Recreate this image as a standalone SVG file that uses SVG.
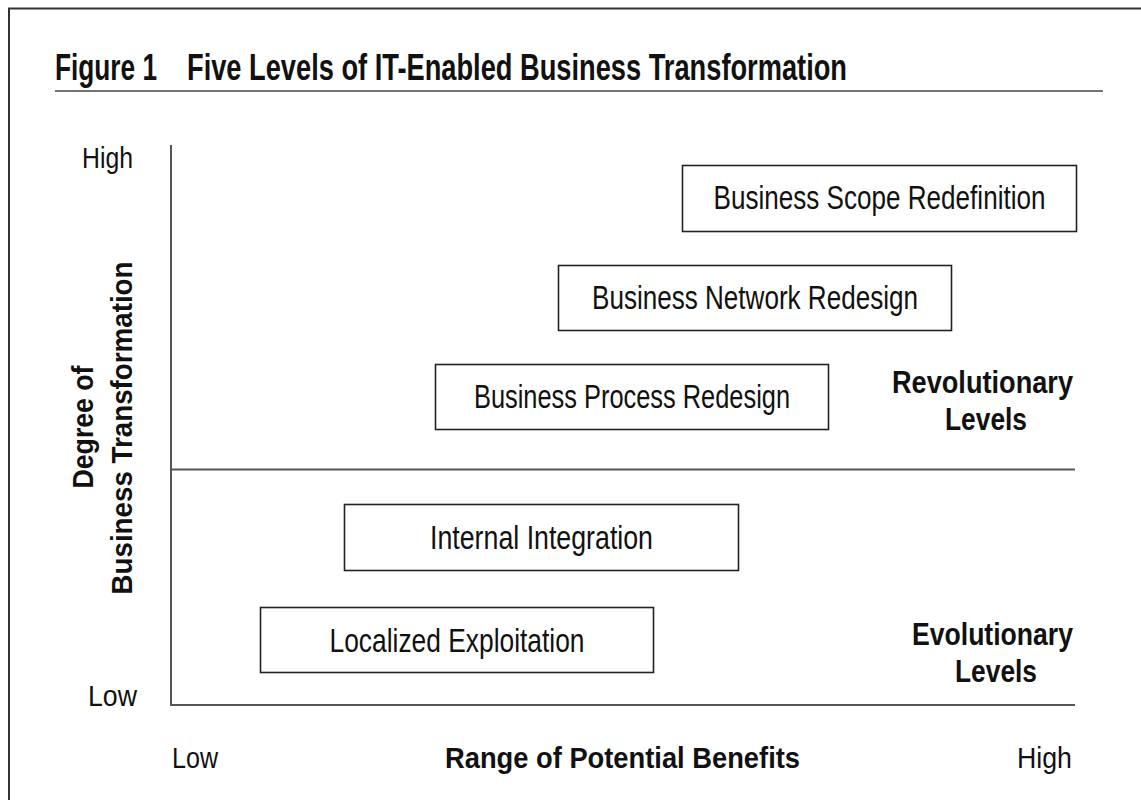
<svg xmlns="http://www.w3.org/2000/svg" width="1141" height="800" viewBox="0 0 1141 800">
<style>
text{font-family:"Liberation Sans",Arial,sans-serif;fill:#111}
.b{font-weight:bold}
.box rect{fill:#fff;stroke:#222;stroke-width:1.6}
.box text{font-size:33px;text-anchor:middle}
.ax{font-size:30px}
.lv{font-size:31px;font-weight:bold}
.line{stroke:#555;stroke-width:2;fill:none}
</style>
<rect width="1141" height="800" fill="#fff"/>
<g id="frame">
<path d="M9,800 V8.5 H1141" fill="none" stroke="#333" stroke-width="2"/>
</g>
<g id="title">
<text class="b" x="55" y="80" font-size="37" textLength="102" lengthAdjust="spacingAndGlyphs">Figure 1</text>
<text class="b" x="187" y="80" font-size="37" textLength="660" lengthAdjust="spacingAndGlyphs">Five Levels of IT-Enabled Business Transformation</text>
<line x1="55" y1="91" x2="1103" y2="91" stroke="#444" stroke-width="1.5"/>
</g>
<g id="axes">
<path class="line" d="M171,145 V705 H1075"/>
<line class="line" x1="171" y1="469.5" x2="1075" y2="469.5"/>
</g>
<g id="axis-labels">
<text class="ax" x="82" y="168" textLength="51" lengthAdjust="spacingAndGlyphs">High</text>
<text class="ax" x="88" y="706" textLength="49" lengthAdjust="spacingAndGlyphs">Low</text>
<text class="ax" x="172" y="768" textLength="46" lengthAdjust="spacingAndGlyphs">Low</text>
<text class="ax" x="1017" y="768" textLength="55" lengthAdjust="spacingAndGlyphs">High</text>
<text class="ax b" x="445" y="768" textLength="355" lengthAdjust="spacingAndGlyphs">Range of Potential Benefits</text>
<text class="b" font-size="30" text-anchor="middle" transform="translate(93,427) rotate(-90)" textLength="123" lengthAdjust="spacingAndGlyphs">Degree of</text>
<text class="b" font-size="30" text-anchor="middle" transform="translate(132,428) rotate(-90)" textLength="333" lengthAdjust="spacingAndGlyphs">Business Transformation</text>
</g>
<g id="level-labels">
<text class="lv" x="892" y="393" textLength="181" lengthAdjust="spacingAndGlyphs">Revolutionary</text>
<text class="lv" x="945" y="430" textLength="82" lengthAdjust="spacingAndGlyphs">Levels</text>
<text class="lv" x="912" y="645" textLength="161" lengthAdjust="spacingAndGlyphs">Evolutionary</text>
<text class="lv" x="955" y="682" textLength="82" lengthAdjust="spacingAndGlyphs">Levels</text>
</g>
<g id="scope" class="box">
<rect x="682.5" y="165.5" width="394" height="66"/>
<text x="879.5" y="209" textLength="332" lengthAdjust="spacingAndGlyphs">Business Scope Redefinition</text>
</g>
<g id="network" class="box">
<rect x="558.5" y="265.5" width="393" height="65"/>
<text x="755" y="309" textLength="326" lengthAdjust="spacingAndGlyphs">Business Network Redesign</text>
</g>
<g id="process" class="box">
<rect x="435.5" y="364.5" width="393" height="65"/>
<text x="632" y="408" textLength="316" lengthAdjust="spacingAndGlyphs">Business Process Redesign</text>
</g>
<g id="internal" class="box">
<rect x="344.5" y="504.5" width="394" height="66"/>
<text x="541.5" y="549" textLength="223" lengthAdjust="spacingAndGlyphs">Internal Integration</text>
</g>
<g id="localized" class="box">
<rect x="260.5" y="607.5" width="393" height="65"/>
<text x="457" y="652" textLength="255" lengthAdjust="spacingAndGlyphs">Localized Exploitation</text>
</g>
</svg>
